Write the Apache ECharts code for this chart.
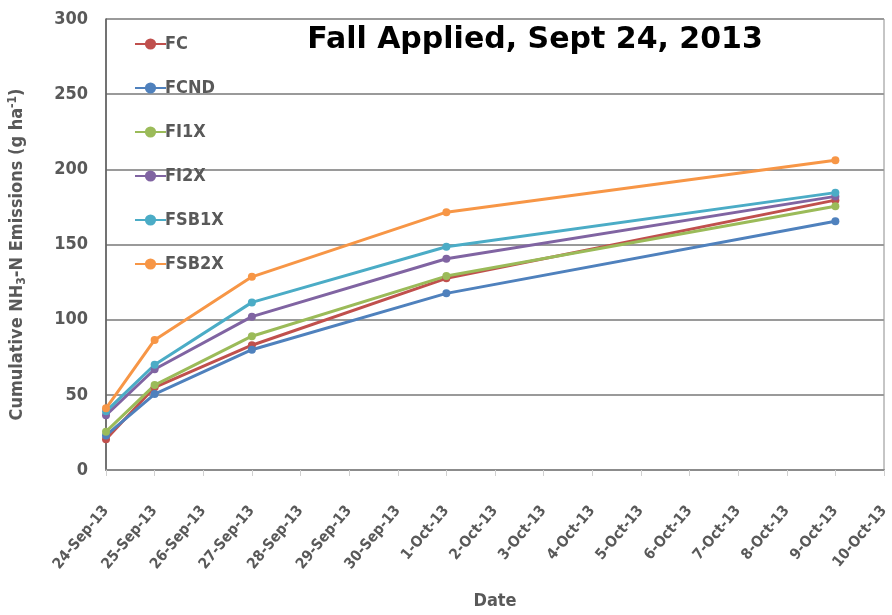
<!DOCTYPE html>
<html>
<head>
<meta charset="utf-8">
<script src="https://cdn.jsdelivr.net/npm/echarts@6/dist/echarts.min.js"></script>
<style>
  html, body { margin: 0; padding: 0; background: #fff; }
  #chart { width: 892px; height: 615px; }
</style>
</head>
<body>
<div id="chart"></div>
<script>
// dates on the x axis (one category per day)
const dates = [
  "24-Sep-13", "25-Sep-13", "26-Sep-13", "27-Sep-13", "28-Sep-13", "29-Sep-13",
  "30-Sep-13", "1-Oct-13", "2-Oct-13", "3-Oct-13", "4-Oct-13", "5-Oct-13",
  "6-Oct-13", "7-Oct-13", "8-Oct-13", "9-Oct-13", "10-Oct-13",
];
// sampling dates
const sampleDates = ["24-Sep-13", "25-Sep-13", "27-Sep-13", "1-Oct-13", "9-Oct-13"];

const fc = [20.5, 55, 83, 127.5, 179.5];
const fcnd = [23, 50.5, 80, 117.5, 165.5];
const fi1x = [25.5, 56.5, 89, 129, 175.5];
const fi2x = [36.5, 67, 102, 140.5, 182];
const fsb1x = [39, 70, 111.5, 148.5, 184.5];
const fsb2x = [41, 86.5, 128.5, 171.5, 206];

const seriesNames = ["FC", "FCND", "FI1X", "FI2X", "FSB1X", "FSB2X"];
const seriesValues = [fc, fcnd, fi1x, fi2x, fsb1x, fsb2x];
const colors = ["#C0504D", "#4F81BD", "#9BBB59", "#8064A2", "#4BACC6", "#F79646"];

const yTicks = [0, 50, 100, 150, 200, 250, 300];

const font = "'DejaVu Sans Condensed', 'DejaVu Sans', sans-serif";
const gray = "#595959";

let myChart = echarts.init(document.getElementById("chart"));

let option = {
  animation: false,
  color: colors,
  title: {
    text: "Fall Applied, Sept 24, 2013",
    left: 530,
    top: 20,
    textAlign: "center",
    textStyle: {
      fontFamily: "'DejaVu Sans', sans-serif",
      fontSize: 30,
      fontWeight: "bold",
      color: "#000",
    },
  },
  legend: {
    orient: "vertical",
    left: 129,
    top: 30,
    itemGap: 26,
    itemWidth: 31,
    itemHeight: 14,
    data: seriesNames,
    textStyle: {
      fontFamily: font,
      fontSize: 18,
      fontWeight: "bold",
      color: gray,
      padding: [0, 0, 0, -6],
    },
  },
  grid: {
    left: 106,
    right: 8,
    top: 19,
    bottom: 145,
    outerBoundsMode: "none",
    show: true,
    borderColor: "#8c8c8c",
    borderWidth: 1,
  },
  xAxis: {
    type: "category",
    boundaryGap: false,
    data: dates,
    name: "Date",
    nameLocation: "middle",
    nameGap: 122,
    nameTextStyle: {
      fontFamily: font,
      fontSize: 18,
      fontWeight: "bold",
      color: gray,
    },
    axisLine: { lineStyle: { color: "#8c8c8c", width: 2 } },
    axisTick: {
      show: true,
      alignWithLabel: true,
      length: 6,
      lineStyle: { color: "#d0d0d0" },
    },
    axisLabel: {
      interval: 0,
      rotate: 50,
      margin: 38,
      fontFamily: font,
      fontSize: 15,
      fontWeight: "bold",
      color: gray,
    },
  },
  yAxis: {
    type: "value",
    min: yTicks[0],
    max: yTicks[yTicks.length - 1],
    interval: 50,
    name: "{a|Cumulative NH}{s|3}{a|-N Emissions (g ha}{p|-1}{a|)}",
    nameLocation: "middle",
    nameGap: 78,
    nameTextStyle: {
      fontFamily: font,
      fontWeight: "bold",
      color: gray,
      padding: [0, 20, 0, 0],
      rich: {
        a: { fontFamily: font, fontSize: 18, fontWeight: "bold", color: gray },
        s: { fontFamily: font, fontSize: 12, fontWeight: "bold", color: gray, padding: [9, 0, 0, 0] },
        p: { fontFamily: font, fontSize: 12, fontWeight: "bold", color: gray, padding: [0, 0, 9, 0] },
      },
    },
    axisLine: { show: true, lineStyle: { color: "#595959", width: 1.5 } },
    axisTick: { show: false },
    axisLabel: {
      margin: 18,
      fontFamily: font,
      fontSize: 18,
      fontWeight: "bold",
      color: gray,
    },
    splitLine: { lineStyle: { color: "#9a9a9a", width: 2 } },
  },
  series: seriesNames.map((name, i) => ({
    name: name,
    type: "line",
    symbol: "circle",
    symbolSize: 8,
    lineStyle: { width: 3 },
    data: sampleDates.map((d, j) => [d, seriesValues[i][j]]),
  })),
};
myChart.setOption(option);
</script>
</body>
</html>
